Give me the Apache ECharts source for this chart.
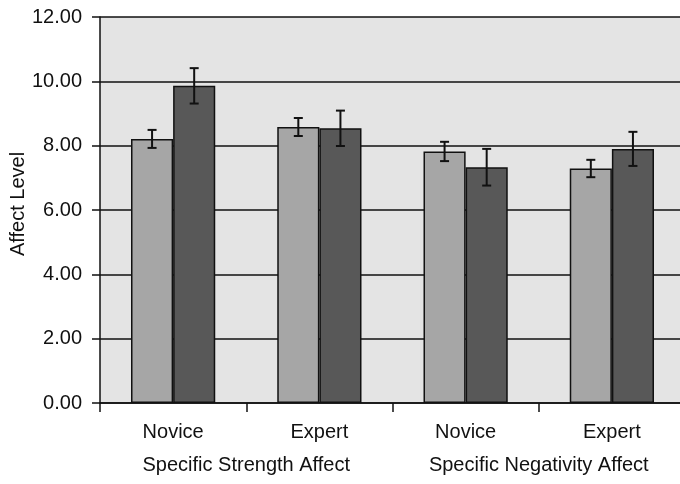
<!DOCTYPE html>
<html>
<head>
<meta charset="utf-8">
<script src="https://cdn.jsdelivr.net/npm/echarts@6/dist/echarts.min.js"></script>
<style>
  html, body { margin: 0; padding: 0; background: #fff; }
  #chart { width: 680px; height: 484px; }
</style>
</head>
<body>
<div id="chart"></div>
<script>
// Affect level by expertise, two affect scales
const groups = ['Novice', 'Expert', 'Novice', 'Expert'];
const scales = ['Specific Strength Affect', 'Specific Negativity Affect'];
const yTicks = [0, 2, 4, 6, 8, 10, 12];

const lightMeans = [8.21, 8.58, 7.82, 7.29];
const lightErr   = [0.28, 0.28, 0.30, 0.27];
const darkMeans  = [9.86, 8.54, 7.33, 7.90];
const darkErr    = [0.55, 0.55, 0.57, 0.53];

const FONT = 'Liberation Sans, Arial, Helvetica, sans-serif';
const INK = '#111';
const BAR_FRAC = 0.288;         // each bar's share of a category band
const CAT_GAP = (1 - 2 * BAR_FRAC) * 100 + '%';

function errorSeries(means, errs, side) {
  return {
    type: 'custom',
    xAxisIndex: 0,
    yAxisIndex: 0,
    z: 10,
    data: means.map((m, i) => [i, m, errs[i]]),
    renderItem: function (params, api) {
      const i = api.value(0), m = api.value(1), e = api.value(2);
      const band = api.size([1, 0])[0];
      const dx = side * band * BAR_FRAC / 2;
      const top = api.coord([i, m + e]);
      const bot = api.coord([i, m - e]);
      const x = top[0] + dx;
      const cap = 4.5;
      const style = { stroke: INK, lineWidth: 2, fill: null };
      return {
        type: 'group',
        children: [
          { type: 'line', shape: { x1: x, y1: top[1], x2: x, y2: bot[1] }, style },
          { type: 'line', shape: { x1: x - cap, y1: top[1], x2: x + cap, y2: top[1] }, style },
          { type: 'line', shape: { x1: x - cap, y1: bot[1], x2: x + cap, y2: bot[1] }, style }
        ]
      };
    }
  };
}

const chart = echarts.init(document.getElementById('chart'), null, { renderer: 'canvas' });
chart.setOption({
  animation: false,
  backgroundColor: '#ffffff',
  textStyle: { fontFamily: FONT },
  grid: {
    show: true,
    left: 100,
    top: 17,
    width: 585,
    height: 386,
    backgroundColor: '#e4e4e4',
    borderWidth: 0,
    containLabel: false,
    outerBoundsMode: 'none'
  },
  xAxis: [
    {
      type: 'category',
      data: groups,
      boundaryGap: true,
      axisLine: { show: true, lineStyle: { color: INK, width: 1.5 } },
      axisTick: { show: true, length: 9, alignWithLabel: false, lineStyle: { color: INK, width: 1.5 } },
      axisLabel: { color: INK, fontSize: 20, fontFamily: FONT, margin: 19 },
      splitLine: { show: false }
    },
    {
      type: 'category',
      data: scales,
      position: 'bottom',
      gridIndex: 0,
      axisLine: { show: false },
      axisTick: { show: false },
      axisLabel: { color: INK, fontSize: 20, fontFamily: FONT, margin: 52 },
      splitLine: { show: false }
    }
  ],
  yAxis: {
    type: 'value',
    min: yTicks[0],
    max: yTicks[yTicks.length - 1],
    interval: yTicks[1] - yTicks[0],
    name: 'Affect Level',
    nameLocation: 'middle',
    nameGap: 72,
    nameMoveOverlap: false,
    nameTextStyle: { color: INK, fontSize: 20, fontFamily: FONT, padding: [0, 0, 0, 12] },
    axisLine: { show: true, lineStyle: { color: INK, width: 1.5 } },
    axisTick: { show: true, length: 8, lineStyle: { color: INK, width: 1.5 } },
    axisLabel: {
      color: INK, fontSize: 20, fontFamily: FONT, margin: 18,
      formatter: v => v.toFixed(2)
    },
    splitLine: { show: true, lineStyle: { color: INK, width: 1.5 } }
  },
  series: [
    {
      type: 'bar',
      data: lightMeans,
      barGap: 0,
      barCategoryGap: CAT_GAP,
      itemStyle: { color: '#a6a6a6', borderColor: INK, borderWidth: 1.5 }
    },
    {
      type: 'bar',
      data: darkMeans,
      barGap: 0,
      barCategoryGap: CAT_GAP,
      itemStyle: { color: '#585858', borderColor: INK, borderWidth: 1.5 }
    },
    errorSeries(lightMeans, lightErr, -1),
    errorSeries(darkMeans, darkErr, 1)
  ]
});
</script>
</body>
</html>
